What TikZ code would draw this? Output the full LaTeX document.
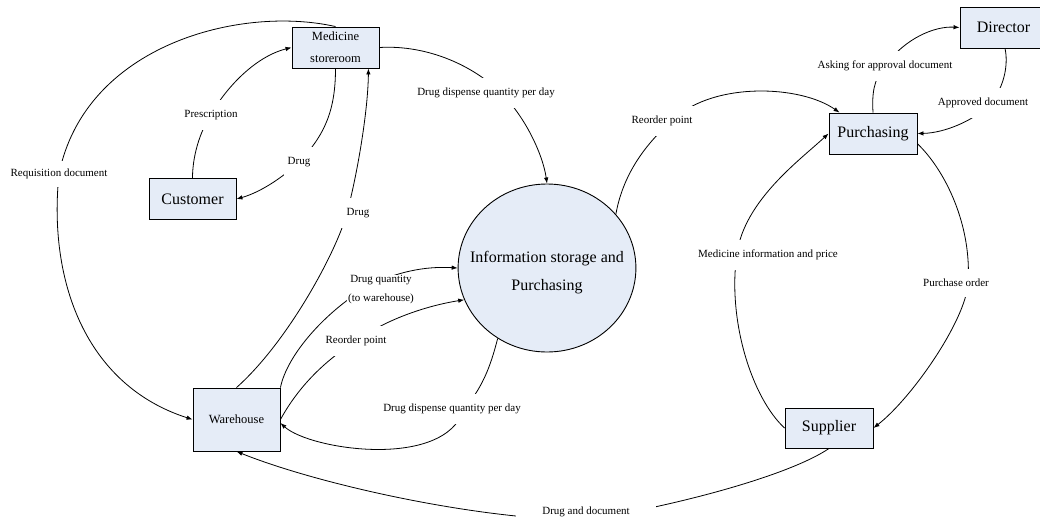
\documentclass[tikz,border=0pt]{standalone}
\usepackage{fontspec}
\setmainfont{Liberation Serif}
\usetikzlibrary{arrows.meta,calc,shapes.geometric,backgrounds}
\definecolor{boxfill}{RGB}{229,236,247}

\begin{document}
\begin{tikzpicture}[x=1pt,y=-1pt,
  box/.style={draw=black, line width=0.9pt, fill=boxfill, minimum width=87pt,
    minimum height=41pt, inner sep=0pt, align=center, font=\fontsize{16}{19}\selectfont},
  smallbox/.style={box, font=\fontsize{12.5}{22}\selectfont},
  store/.style={ellipse, draw=black, line width=0.9pt, fill=boxfill,
    inner xsep=-14pt, inner ysep=20pt, minimum height=168pt,
    align=center, font=\fontsize{16}{28}\selectfont},
  lbl/.style={fill=white, font=\fontsize{11}{13}\selectfont, inner xsep=2pt, inner ysep=10pt},
  flow/.style={line width=0.8pt, -{Latex[length=6pt,width=4.5pt]}}
]
\useasboundingbox (0,0) rectangle (1040,520);

% entities and the data store
\node[smallbox] (med) at (335.5,47.5) {Medicine\\storeroom};
\node[box] (cust) at (192.5,199) {Customer};
\node[smallbox, minimum height=63pt] (ware) at (236.5,419.5) {Warehouse};
\node[store] (info) at (547,268) {\rule{0pt}{20pt}Information storage and\\Purchasing};
\node[box, minimum width=88pt] (purch) at (873,133.5) {Purchasing};
\node[box] (dir) at (1003.5,27.5) {Director};
\node[box, minimum width=88pt, minimum height=40pt] (supp) at (829,428) {Supplier};

% flow labels (white boxes break the lines)
\node[lbl] (lPresc) at (211,115) {Prescription};
\node[lbl, inner xsep=4pt] (lDrugA) at (299,162) {Drug};
\node[lbl, inner xsep=6pt] (lDrugB) at (358,213) {Drug};
\node[lbl, inner ysep=8pt] (lReq) at (59,174) {Requisition document};
\node[lbl] (lDdqTop) at (486,93) {Drug dispense quantity per day};
\node[lbl] (lReoTop) at (662,121) {Reorder point};
\node[lbl] (lAsk) at (885,66) {Asking for approval document};
\node[lbl] (lAppr) at (983,103) {Approved document};
\node[lbl] (lInfo) at (768,255) {Medicine information and price};
\node[lbl] (lPO) at (956,283) {Purchase order};
\node[lbl, inner xsep=26pt, inner ysep=6pt] (lDD) at (586,512) {Drug and document};
\node[lbl, align=center, inner sep=1pt, font=\fontsize{11}{19}\selectfont] (lQty) at (381,290)
  {Drug quantity\\(to warehouse)};
\node[lbl] (lReoLow) at (356,341) {Reorder point};
\node[lbl] (lDdqLow) at (452,409) {Drug dispense quantity per day};

% data flows
\begin{scope}[on background layer]
  % customer side
  \draw[flow] (cust.north) .. controls (192.5,152) and (202.5,127) .. (lPresc.center)
              .. controls (220,97) and (250,58) .. (med.west);
  \draw[flow] (med.south) .. controls (335.5,110) and (325,135) .. (lDrugA.center)
              .. controls (280,180) and (258,193) .. (cust.east);
  \draw[flow] (ware.north) .. controls (290,340) and (340,245) .. (348,209)
              .. controls (358,170) and (368,110) .. ($(med.south east)+(-11,0)$);
  \draw[flow] (med.north) .. controls (240,5) and (85,45) .. (lReq.center)
              .. controls (48,280) and (85,385) .. (ware.west);
  \draw[flow] (med.east) .. controls (420,45) and (465,60) .. (498,90)
              .. controls (525,115) and (543,155) .. (info.north);

  % warehouse and the data store
  \draw[flow] (ware.north east) .. controls (287,355) and (325,312) .. (367,287)
              .. controls (395,272) and (425,266) .. (info.west);
  \draw[flow] (ware.east) .. controls (295,393) and (318,365) .. (lReoLow.center)
              .. controls (385,320) and (425,306) .. (info.201);
  \draw[flow] (info.235) .. controls (492,360) and (485,385) .. (464,409)
              .. controls (445,470) and (310,450) .. ($(ware.east)+(0,3.5)$);

  % purchasing side
  \draw[flow] (info.38) .. controls (622,180) and (640,148) .. (675,118)
              .. controls (715,82) and (800,85) .. ($(purch.north west)+(11,0)$);
  \draw[flow] (purch.north) .. controls (872,95) and (873,80) .. (lAsk.center)
              .. controls (905,38) and (935,26) .. (dir.west);
  \draw[flow] ($(dir.south)+(1.5,0)$) .. controls (1008,62) and (1006,85) .. (990,104)
              .. controls (975,120) and (945,133) .. (purch.east);
  \draw[flow] (purch.-13) .. controls (945,170) and (972,225) .. (968,283)
              .. controls (966,320) and (912,398) .. (supp.east);
  \draw[flow] (supp.west) .. controls (752,398) and (727,320) .. (737,253)
              .. controls (745,200) and (800,160) .. (purch.west);
  \draw[flow] (supp.south) .. controls (790,475) and (680,505) .. (586,520)
              .. controls (480,520) and (320,485) .. (ware.south);
\end{scope}
\end{tikzpicture}
\end{document}
